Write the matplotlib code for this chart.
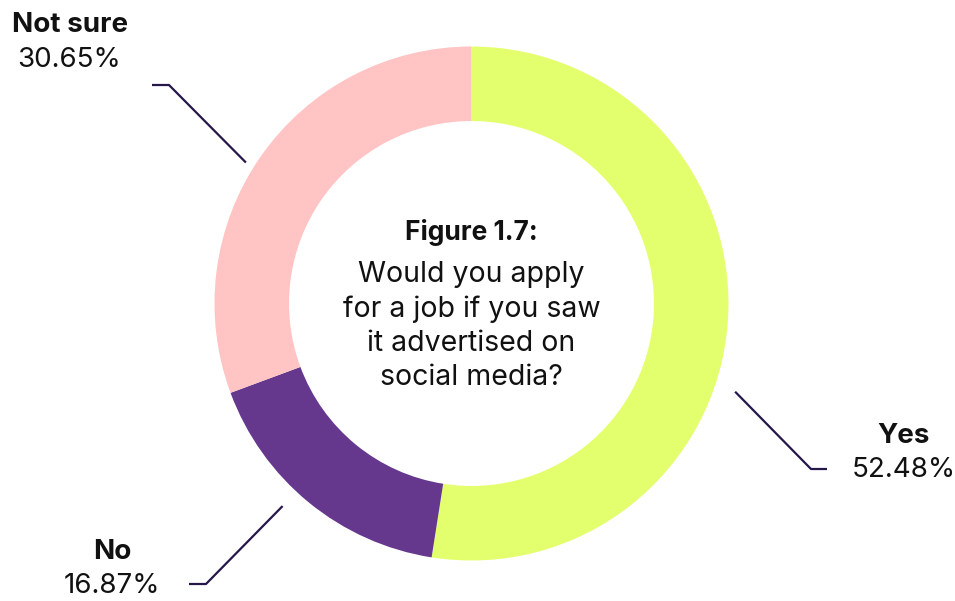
import math

import matplotlib
matplotlib.use("Agg")
import matplotlib.pyplot as plt

# Survey answers, clockwise from twelve o'clock
answers = ["Yes", "No", "Not sure"]
shares = [52.48, 16.87, 30.65]
colours = ["#e4ff6e", "#65388e", "#ffc4c3"]

title = "Figure 1.7:"
question = "Would you apply\nfor a job if you saw\nit advertised on\nsocial media?"

# label placement: angle (deg) / distance of the leader start, elbow and
# tail points and the centres of the two label lines, all in px
leaders = {
    "Yes": dict(angle=-18.5, dist=278, elbow=(811, 469), tail=(827, 469),
                text=(904, 436), pct=(904, 470)),
    "No": dict(angle=-133.0, dist=277, elbow=(206, 584), tail=(189, 584),
               text=(112, 552), pct=(112, 586)),
    "Not sure": dict(angle=148.0, dist=266, elbow=(169, 85), tail=(152, 85),
                     text=(70, 25), pct=(69, 60)),
}

W, H = 955, 601
cx, cy = 471.5, 303.5   # pie centre in px from top-left
radius = 257
ring = 0.29

plt.rcParams["font.family"] = ["Inter", "DejaVu Sans"]

fig = plt.figure(figsize=(W / 100, H / 100), dpi=100)
ax = fig.add_axes([0, 0, 1, 1])
ax.axis("off")


def flip(y):
    return H - y


ax.pie(shares, colors=colours, startangle=90, counterclock=False,
       center=(cx, flip(cy)), radius=radius,
       wedgeprops=dict(width=radius * ring, linewidth=0))
ax.set_xlim(0, W)
ax.set_ylim(0, H)
ax.set_aspect("auto")

for name, share in zip(answers, shares):
    spec = leaders[name]
    a = math.radians(spec["angle"])
    x0 = cx + spec["dist"] * math.cos(a)
    y0 = cy - spec["dist"] * math.sin(a)
    ex, ey = spec["elbow"]
    tx, ty = spec["tail"]
    ax.plot([x0, ex, tx], [flip(y0), flip(ey), flip(ty)],
            color="#26174a", linewidth=1.6, solid_capstyle="butt")
    lx, ly = spec["text"]
    ax.text(lx, flip(ly), name, ha="center", va="center",
            fontsize=20, fontweight="bold", color="#111111")
    px, py = spec["pct"]
    ax.text(px, flip(py), f"{share:.2f}%", ha="center", va="center",
            fontsize=20, color="#111111")

# question text inside the ring
ax.text(cx, flip(232), title, ha="center", va="center",
        fontsize=19, fontweight="bold", color="#111111")
ax.text(cx, flip(326), question, ha="center", va="center",
        fontsize=20.5, color="#111111", linespacing=1.34)

fig.savefig("out.png", dpi=100)
